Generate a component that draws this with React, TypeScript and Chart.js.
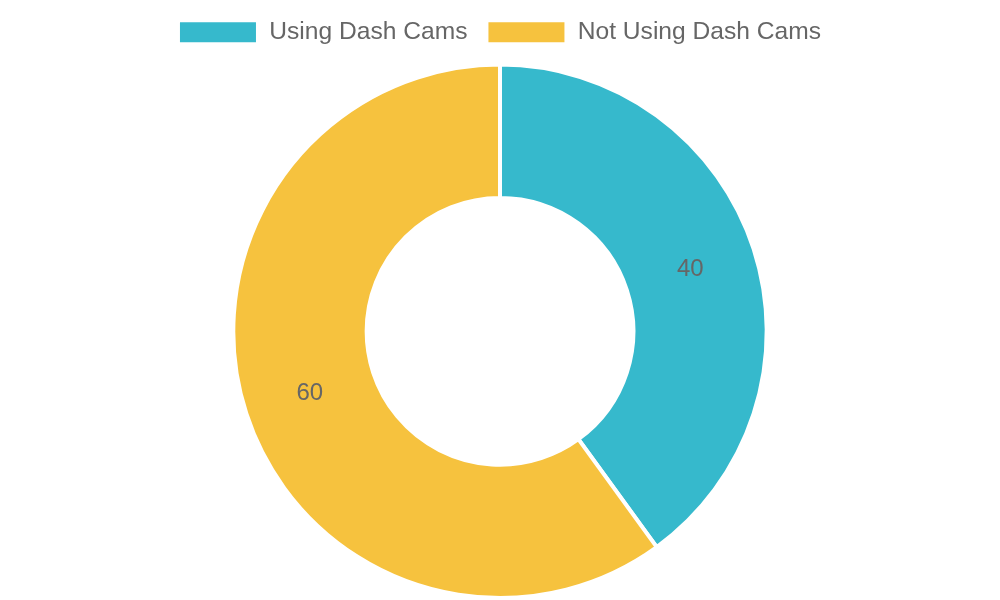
import { useEffect, useRef } from 'react'
import { Chart, ChartConfiguration, Plugin } from 'chart.js/auto'

const labels = ['Using Dash Cams', 'Not Using Dash Cams']
const values = [40, 60]
const colors = ['#36b9cc', '#f6c23e']

// draws the value in the middle of each slice
const sliceLabels: Plugin<'doughnut'> = {
  id: 'sliceLabels',
  afterDatasetsDraw(chart) {
    const ctx = chart.ctx
    const meta = chart.getDatasetMeta(0)
    ctx.save()
    ctx.font = "24px 'Liberation Sans', Arial, sans-serif"
    ctx.fillStyle = '#666'
    ctx.textAlign = 'center'
    ctx.textBaseline = 'middle'
    meta.data.forEach((arc, i) => {
      const { x, y } = arc.tooltipPosition(true)
      ctx.fillText(String(values[i]), x, y)
    })
    ctx.restore()
  },
}

// a bit more room under the legend
const legendGap: Plugin<'doughnut'> = {
  id: 'legendGap',
  beforeInit(chart) {
    const legend: any = chart.legend
    if (!legend) return
    const fit = legend.fit
    legend.fit = function () {
      fit.call(this)
      this.height += 8
    }
  },
}

export default function App() {
  const canvasRef = useRef<HTMLCanvasElement>(null)
  const chartRef = useRef<Chart>()

  useEffect(() => {
    if (!canvasRef.current) return
    const ctx = canvasRef.current.getContext('2d')
    if (!ctx) return

    Chart.defaults.font.family = "'Liberation Sans', Arial, sans-serif"

    const config: ChartConfiguration<'doughnut'> = {
      type: 'doughnut',
      data: {
        labels,
        datasets: [
          {
            data: values,
            backgroundColor: colors,
            borderColor: '#fff',
            borderWidth: 4,
          },
        ],
      },
      options: {
        responsive: true,
        maintainAspectRatio: false,
        animation: false,
        cutout: '50%',
        plugins: {
          legend: {
            position: 'top',
            labels: {
              boxWidth: 78,
              boxHeight: 22,
              padding: 20,
              color: '#666',
              font: { size: 24.6 },
              generateLabels(chart) {
                const items = Chart.overrides.doughnut.plugins.legend.labels.generateLabels(chart)
                return items.map((it: any) => ({ ...it, lineWidth: 2 }))
              },
            },
          },
          tooltip: { enabled: false },
        },
      },
      plugins: [sliceLabels, legendGap],
    }

    if (chartRef.current) chartRef.current.destroy()
    chartRef.current = new Chart(ctx, config)

    return () => {
      if (chartRef.current) chartRef.current.destroy()
    }
  }, [])

  return (
    <div style={{ position: 'absolute', left: 0, top: 0, width: 1000, height: 600 }}>
      <canvas ref={canvasRef} />
    </div>
  )
}
